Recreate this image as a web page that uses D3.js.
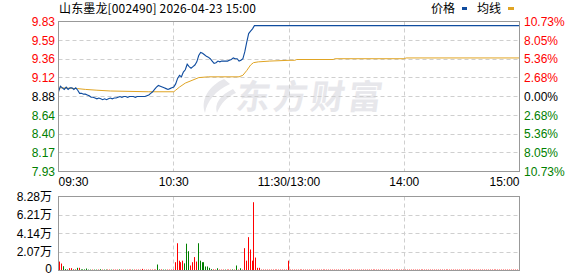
<!DOCTYPE html>
<html><head><meta charset="utf-8">
<script src="https://cdn.jsdelivr.net/npm/d3@7/dist/d3.min.js"></script>
<style>body{margin:0;background:#fff}svg{display:block}</style>
</head><body><svg id="c" width="578" height="276"></svg>
<script>
const stockTitle = "山东墨龙[002490] 2026-04-23 15:00";
const legendNames = ["价格", "均线"];
const prevClose = 8.88;
const priceMax = 9.833, priceMin = 7.927;
const priceTicks = ["9.83","9.59","9.36","9.12","8.88","8.64","8.40","8.17","7.93"];
const pctTicks = ["10.73%","8.05%","5.36%","2.68%","0.00%","2.68%","5.36%","8.05%","10.73%"];
const volTicks = ["8.28万","6.21万","4.14万","2.07万","0"];
const volTickValues = [8.28, 6.21, 4.14, 2.07, 0];
const timeLabels = ["09:30","10:30","11:30/13:00","14:00","15:00"];
const timeLabelMinutes = [0, 60, 120, 180, 240];

// price line (minute index from 09:30, value)
const priceMinutes = [0,1,2,3,4,5,6,7,8,9,10,11,12,13,14,15,16,17,18,19,20,21,22,23,24,25,26,27,28,29,30,31,32,33,34,35,36,37,38,39,40,41,42,43,44,45,46,47,48,49,50,51,52,53,54,55,56,57,58,59,60,61,62,63,64,65,66,67,68,69,70,71,72,73,74,75,76,77,78,79,80,81,82,83,84,85,86,87,88,89,90,91,92,93,94,95,96,97,98,99,100,101,102,120,240];
const priceValues = [8.94,9.01,8.99,8.97,9.00,8.97,8.99,8.99,8.97,8.99,8.96,8.92,8.92,8.91,8.91,8.90,8.89,8.87,8.87,8.86,8.85,8.86,8.85,8.84,8.85,8.84,8.85,8.86,8.85,8.86,8.86,8.87,8.88,8.87,8.88,8.88,8.87,8.88,8.88,8.88,8.87,8.88,8.88,8.88,8.88,8.88,8.89,8.90,8.92,8.94,8.97,9.00,9.02,9.01,9.00,8.99,8.98,8.97,8.98,8.99,9.00,9.04,9.11,9.15,9.13,9.19,9.22,9.29,9.26,9.24,9.26,9.28,9.32,9.40,9.44,9.43,9.41,9.39,9.38,9.36,9.33,9.30,9.31,9.33,9.32,9.33,9.33,9.33,9.33,9.34,9.35,9.37,9.36,9.36,9.33,9.34,9.36,9.45,9.57,9.68,9.71,9.74,9.78,9.78,9.78];

// average line
const avgMinutes = [0,1,10,14,20,27,47,60,61,63,66,70,73,78,94,96,98,100,101.5,104,110,120,123,124,143,144,180,181,240];
const avgValues = [8.98,8.99,8.98,8.97,8.96,8.95,8.94,8.94,8.96,9.00,9.05,9.09,9.12,9.13,9.13,9.15,9.21,9.28,9.31,9.32,9.33,9.34,9.34,9.35,9.35,9.36,9.36,9.37,9.37];

// volume (万手), minutes 1..120 and 121..240; dir: r = up, g = down
const volMorning = [
1.0,0.78,0.48,0.15,0.12,0.26,0.26,0.12,0.12,0.3,
0.3,0.12,0.12,0.12,0.22,0.1,0.1,0.1,0.1,0.1,
0.1,0.14,0.1,0.1,0.1,0.1,0.1,0.1,0.1,0.1,
0.1,0.12,0.1,0.1,0.1,0.1,0.1,0.1,0.1,0.1,
0.1,0.1,0.1,0.18,0.1,0.1,0.1,0.1,0.1,0.1,
0.1,0.67,0.12,0.12,0.1,0.1,0.1,0.1,0.1,0.1,
0.93,3.05,1.1,0.93,1.1,0.8,3.0,2.16,0.56,0.93,
1.5,1.0,3.05,1.1,0.93,0.93,0.45,0.45,0.3,0.15,
0.12,0.1,0.25,0.1,0.1,0.1,0.1,0.1,0.1,0.1,
0.12,0.1,0.56,0.1,0.25,0.1,2.5,1.1,3.73,2.35,
1.1,7.64,1.45,0.3,0.3,0.1,0.1,0.1,0.1,0.1,
0.1,0.1,0.1,0.1,0.1,0.1,0.1,0.1,0.1,1.1];
const dirMorning = "rrgggrrgrgrggggggrggrgrggrrgrrrgrrgrrrgrrrrrrrrrrrrggrggrrrrrrrrrgggrrrrggggggggrrgrrrgrrrgrgrgrrrrrrrrrrrrrrrrrrrrrrrrr";
const volAfternoon = [
0.1,0.1,0.1,0.1,0.1,0.1,0.1,0.1,0.1,0.1,0.1,0.1,0.1,0.1,0.1,0.1,0.1,0.1,0.1,0.1,
0.1,0.1,0.1,0.1,0.1,0.1,0.1,0.1,0.1,0.1,0.1,0.1,0.1,0.1,0.1,0.1,0.1,0.1,0.1,0.1,
0.1,0.1,0.1,0.1,0.1,0.1,0.1,0.1,0.1,0.1,0.1,0.1,0.1,0.1,0.1,0.1,0.1,0.1,0.1,0.1,
0.1,0.1,0.1,0.1,0.1,0.1,0.1,0.1,0.1,0.1,0.1,0.1,0.1,0.1,0.1,0.1,0.1,0.1,0.1,0.1,
0.1,0.1,0.1,0.1,0.1,0.1,0.1,0.1,0.1,0.1,0.1,0.1,0.1,0.1,0.1,0.1,0.1,0.1,0.1,0.1,
0.1,0.1,0.1,0.1,0.1,0.1,0.1,0.1,0.1,0.1,0.1,0.1,0.1,0.1,0.1,0.1,0.1,0.1,0.1,0.1];

const RED = "#ff0000", GREEN = "#008000", GRID = "#cfcfcf", BORDER = "#999999";
const PRICE_C = "#0f4c9f", AVG_C = "#e0a423";
const LABEL_FONT = "'Liberation Sans', Arial, sans-serif";
const CJK_FONT = "'Noto Sans CJK SC', sans-serif";

const svg = d3.select("#c");
const L = 58.5, R = 519.5, T = 21.5, B = 171.5, VT = 196.5, VB = 270.5;

const x = d3.scaleLinear().domain([0, 240]).range([L, R]);
const y = d3.scaleLinear().domain([priceMin, priceMax]).range([B, T]);
const yv = d3.scaleLinear().domain([0, 8.28]).range([VB, VT]);
const tickY = d3.scaleLinear().domain([0, priceTicks.length - 1]).range([T, B]);

// watermark
const wm = svg.append("g").attr("fill", "#e7e7eb");
wm.append("path").attr("d", "M224 79 C210 85 200 99 205 113 C207 101 215 91 230 84 Z");
wm.append("path").attr("d", "M233 89 C220 95 214 104 217 113 C221 103 227 97 236 93 Z");
wm.append("text").attr("x", 236).attr("y", 109)
  .attr("font-family", CJK_FONT).attr("font-weight", "bold").attr("font-size", 34)
  .attr("transform", "skewX(-8) translate(14,0)")
  .attr("textLength", 146).text("东方财富");

// grids main
const gridG = svg.append("g").attr("stroke", GRID).attr("stroke-dasharray", "4,3").attr("stroke-width", 1);
priceTicks.forEach((t, i) => {
  if (i === 0 || i === priceTicks.length - 1) return;
  const yy = Math.round(tickY(i) - 0.5) + 0.5;
  gridG.append("line").attr("x1", L).attr("x2", R).attr("y1", yy).attr("y2", yy);
});
[60, 120, 180].forEach(m => {
  const xx = Math.round(x(m) - 0.5) + 0.5;
  gridG.append("line").attr("x1", xx).attr("x2", xx).attr("y1", T).attr("y2", B);
  gridG.append("line").attr("x1", xx).attr("x2", xx).attr("y1", VT).attr("y2", VB);
});
volTickValues.forEach(v => {
  if (v === 0 || v === 8.28) return;
  const yy = Math.round(yv(v) - 0.5) + 0.5;
  gridG.append("line").attr("x1", L).attr("x2", R).attr("y1", yy).attr("y2", yy);
});

// volume bars
const volData = [];
volMorning.forEach((v, i) => volData.push({m: i + 1, v, c: dirMorning[i] === "g" ? GREEN : RED}));
volAfternoon.forEach((v, i) => volData.push({m: i + 121, v, c: RED}));
svg.append("g").selectAll("rect").data(volData).join("rect")
  .attr("x", d => Math.round(x(d.m)) - 0.5 - 0.5)
  .attr("width", 1)
  .attr("y", d => yv(d.v))
  .attr("height", d => VB - 0.5 - yv(d.v))
  .attr("fill", d => d.c);

// lines
const avgData = avgMinutes.map((m, i) => [m, avgValues[i]]);
const priceData = priceMinutes.map((m, i) => [m, priceValues[i]]);
const line = d3.line().x(d => x(d[0])).y(d => y(d[1]));
svg.append("path").datum(avgData).attr("d", line).attr("fill", "none").attr("stroke", AVG_C).attr("stroke-width", 1);
svg.append("path").datum(priceData).attr("d", line).attr("fill", "none").attr("stroke", PRICE_C).attr("stroke-width", 1.1);

// borders
svg.append("rect").attr("x", L).attr("y", T).attr("width", R - L).attr("height", B - T)
  .attr("fill", "none").attr("stroke", BORDER);
svg.append("rect").attr("x", L).attr("y", VT).attr("width", R - L).attr("height", VB - VT)
  .attr("fill", "none").attr("stroke", BORDER);

// left price labels
const colorFor = i => i < 4 ? RED : (i === 4 ? "#000" : GREEN);
svg.append("g").selectAll("text").data(priceTicks).join("text")
  .attr("x", 55).attr("y", (d, i) => tickY(i)).attr("dy", "0.36em")
  .attr("text-anchor", "end").attr("font-family", LABEL_FONT).attr("font-size", 12)
  .attr("fill", (d, i) => colorFor(i)).text(d => d);
// right pct labels
svg.append("g").selectAll("text").data(pctTicks).join("text")
  .attr("x", 524).attr("y", (d, i) => tickY(i)).attr("dy", "0.36em")
  .attr("text-anchor", "start").attr("font-family", LABEL_FONT).attr("font-size", 12)
  .attr("fill", (d, i) => colorFor(i)).text(d => d);
// time labels
svg.append("g").selectAll("text").data(timeLabels).join("text")
  .attr("x", (d, i) => x(timeLabelMinutes[i]))
  .attr("y", 186)
  .attr("text-anchor", (d, i) => i === 0 ? "start" : (i === timeLabels.length - 1 ? "end" : "middle"))
  .attr("font-family", LABEL_FONT).attr("font-size", 12).attr("fill", "#000").text(d => d);
// volume labels
svg.append("g").selectAll("text").data(volTicks).join("text")
  .attr("x", 52).attr("y", (d, i) => Math.min(yv(volTickValues[i]), 268.5)).attr("dy", "0.36em")
  .attr("text-anchor", "end").attr("font-family", LABEL_FONT + ", " + CJK_FONT).attr("font-size", 12)
  .attr("fill", "#000").text(d => d);

// title
svg.append("text").attr("x", 59).attr("y", 13).attr("font-family", CJK_FONT)
  .attr("font-size", 12).attr("fill", "#000").attr("textLength", 197).text(stockTitle);
// legend
svg.append("text").attr("x", 431).attr("y", 13).attr("font-family", CJK_FONT).attr("font-size", 12).attr("fill", "#000").text(legendNames[0]);
svg.append("rect").attr("x", 462).attr("y", 7).attr("width", 5).attr("height", 3).attr("fill", PRICE_C);
svg.append("text").attr("x", 477).attr("y", 13).attr("font-family", CJK_FONT).attr("font-size", 12).attr("fill", "#000").text(legendNames[1]);
svg.append("rect").attr("x", 508).attr("y", 7).attr("width", 6).attr("height", 3).attr("fill", AVG_C);
</script></body></html>
